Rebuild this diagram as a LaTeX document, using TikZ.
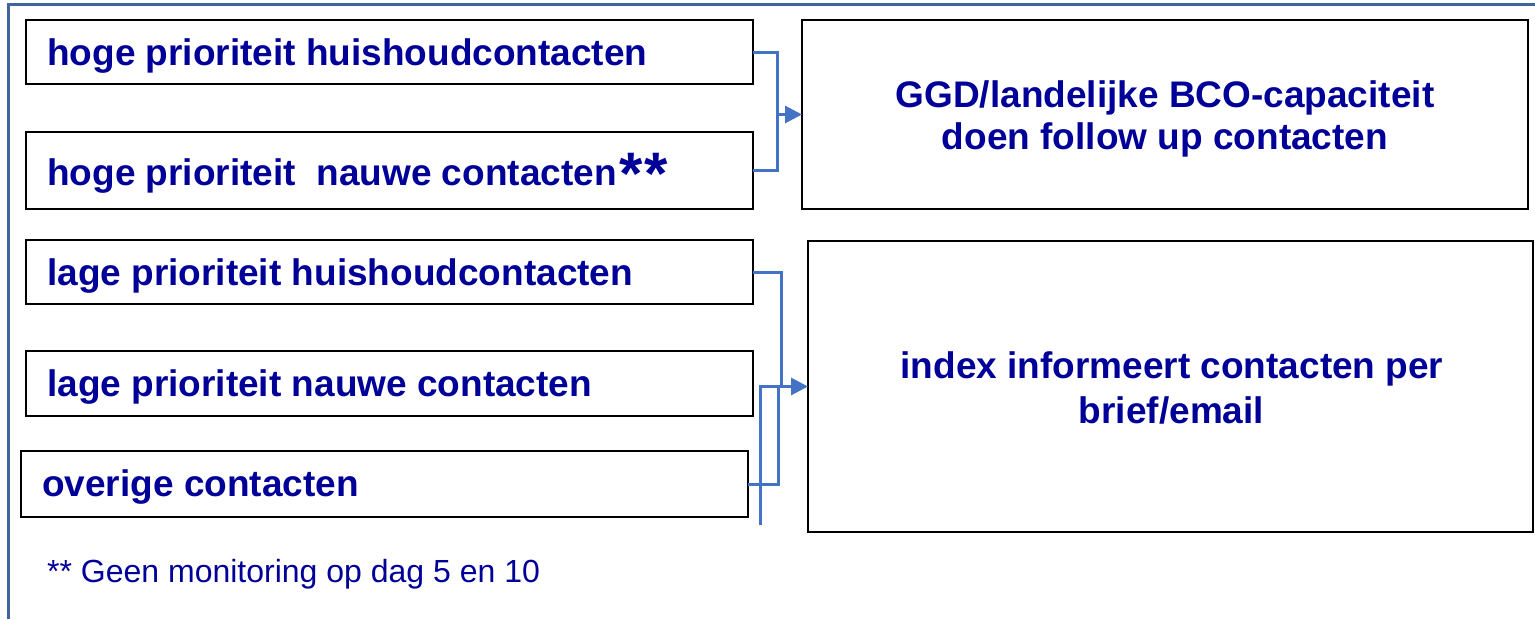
\documentclass[tikz,border=0pt]{standalone}
\usepackage{fontspec}
\setmainfont{Liberation Sans}
\usetikzlibrary{arrows.meta}
\definecolor{txtblue}{HTML}{000099}
\definecolor{connblue}{HTML}{4472C4}
\definecolor{frameblue}{HTML}{3F64A0}
\begin{document}
\begin{tikzpicture}[x=1pt,y=-1pt,
  box/.style={draw=black,line width=2pt,inner sep=0pt,outer sep=0pt},
  lbl/.style={text=txtblue,font=\fontsize{37}{42}\selectfont\bfseries,inner sep=0pt,anchor=base west},
  clbl/.style={text=txtblue,font=\fontsize{37}{42}\selectfont\bfseries,inner sep=0pt,anchor=base},
  conn/.style={draw=connblue,line width=3pt},
  arr/.style={conn,-{Triangle[length=17pt,width=17pt]}}]
\useasboundingbox (0,0) rectangle (1535,619);
\draw[frameblue,line width=3pt] (8,619) -- (8,4) -- (1535,4);
% left boxes
\node[box,minimum width=727pt,minimum height=64pt] (b1) at (389.5,52) {};
\node[box,minimum width=727pt,minimum height=77pt] (b2) at (389.5,170.5) {};
\node[box,minimum width=727pt,minimum height=64pt] (b3) at (389.5,272) {};
\node[box,minimum width=727pt,minimum height=65pt] (b4) at (389.5,383.5) {};
\node[box,minimum width=727pt,minimum height=66pt] (b5) at (384.5,484) {};
% right boxes
\node[box,minimum width=726pt,minimum height=189pt] (r1) at (1165,114.5) {};
\node[box,minimum width=725pt,minimum height=291pt] (r2) at (1170.5,386.5) {};
% texts
\node[lbl] (t2) at (47,185) {hoge prioriteit\ \ nauwe contacten};
\node[lbl] (t1) at (47,65) {hoge prioriteit huishoudcontacten};
\node[text=txtblue,font=\fontsize{60}{64}\selectfont\bfseries,inner sep=0pt,anchor=base west] (t2s) at (619,194) {*\kern2pt*};
\node[lbl] (t3) at (47,285) {lage prioriteit huishoudcontacten};
\node[lbl] (t4) at (47,396) {lage prioriteit nauwe contacten};
\node[lbl] (t5) at (42,496) {overige contacten};
\node[clbl] (r1a) at (1165,107) {GGD/landelijke BCO-capaciteit};
\node[clbl] (r1b) at (1165,149) {doen follow up contacten};
\node[clbl] (r2a) at (1172,378) {index informeert contacten per};
\node[clbl] (r2b) at (1171.5,423) {brief/email};
\node[text=txtblue,font=\fontsize{32}{38}\selectfont,inner sep=0pt,anchor=base west] (fn) at (47,582) {** Geen monitoring op dag 5 en 10};
% connectors group 1
\coordinate (j1) at (777,114.5);
\draw[conn] (b1.east) -| (j1) |- (b2.east);
\draw[arr] (j1) -- (r1.west);
% connectors group 2
\coordinate (j2) at (781,386.5);
\coordinate (j3) at (778,386.5);
\coordinate (j4) at (760,386.5);
\coordinate (j5) at (760,525);
\draw[conn] (b3.east) -| (j2);
\draw[conn] (b5.east) -| (j3);
\draw[arr] (j5) -- (j4) -- (r2.west);
\end{tikzpicture}
\end{document}
